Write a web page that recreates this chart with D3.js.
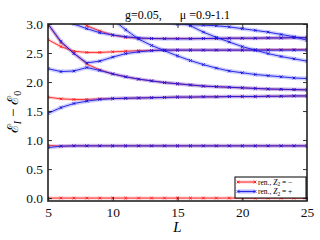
<!DOCTYPE html>
<html><head><meta charset="utf-8">
<script src="https://cdn.jsdelivr.net/npm/d3@7"></script>
<style>body{margin:0;background:#fff}svg{display:block}</style>
</head><body><svg id="c" width="320" height="240"></svg>
<script>
// ---- data ----
const Ls = [5,6,7,8,9,10,11,12,13,14,15,16,17,18,19,20,21,22,23,24,25];
const xTicks = [5,10,15,20,25];
const yTicks = [0.0,0.5,1.0,1.5,2.0,2.5,3.0];
const titleText = "g=0.05,      \u03bc =0.9-1.1";
const legendLabels = ["\u2212", "+"];

// Z2 = - (red)
const red0 = [0,0,0,0,0,0,0,0,0,0,0,0,0,0,0,0,0,0,0,0,0];
const red1 = [0.91,0.895,0.9,0.9,0.9,0.9,0.9,0.9,0.9,0.9,0.9,0.9,0.9,0.9,0.9,0.9,0.9,0.9,0.9,0.9,0.9];
const red2 = [1.74,1.71,1.70,1.70,1.71,1.715,1.72,1.725,1.73,1.735,1.74,1.74,1.745,1.745,1.75,1.75,1.75,1.755,1.755,1.76,1.76];
const red3 = [2.73,2.61,2.53,2.51,2.51,2.52,2.53,2.54,2.545,2.55,2.55,2.55,2.55,2.55,2.55,2.55,2.553,2.556,2.558,2.56,2.56];
const red4 = [3.0,2.68,2.50,2.31,2.21,2.14,2.09,2.05,2.02,1.99,1.97,1.95,1.93,1.92,1.91,1.90,1.89,1.88,1.875,1.87,1.865];
const red5 = [null,null,3.15,2.97,2.88,2.81,2.77,2.755,2.75,2.75,2.75,2.75,2.75,2.75,2.755,2.755,2.755,2.76,2.76,2.765,2.765];

// Z2 = + (blue)
const blue0 = [0.87,0.895,0.9,0.9,0.9,0.9,0.9,0.9,0.9,0.9,0.9,0.9,0.9,0.9,0.9,0.9,0.9,0.9,0.9,0.9,0.9];
const blue1 = [1.46,1.56,1.63,1.67,1.70,1.715,1.72,1.725,1.73,1.735,1.74,1.74,1.745,1.745,1.75,1.75,1.75,1.755,1.755,1.76,1.76];
const blue2 = [2.23,2.18,2.19,2.25,2.20,2.14,2.09,2.05,2.02,1.99,1.97,1.95,1.93,1.92,1.91,1.90,1.89,1.88,1.875,1.87,1.865];
const blue3 = [3.0,2.70,2.49,2.33,2.36,2.43,2.49,2.52,2.54,2.55,2.55,2.55,2.55,2.55,2.55,2.55,2.55,2.55,2.55,2.55,2.55];
const blue4 = [null,3.13,3.0,2.92,2.85,2.81,2.78,2.76,2.75,2.745,2.745,2.745,2.75,2.75,2.755,2.755,2.755,2.76,2.76,2.765,2.765];
const blue5 = [null,null,null,null,null,3.08,2.90,2.74,2.63,2.54,2.45,2.37,2.30,2.24,2.19,2.16,2.13,2.11,2.09,2.07,2.06];
const blue6 = [null,null,null,null,null,null,null,null,null,null,3.08,2.97,2.86,2.77,2.69,2.61,2.55,2.49,2.44,2.40,2.36];
const blue7 = [null,null,null,null,null,null,null,null,null,3.03,3.0,2.99,2.98,2.97,2.95,2.92,2.89,2.86,2.82,2.78,2.72];

const redCurves = [red0,red1,red2,red3,red4,red5];
const blueCurves = [blue0,blue1,blue2,blue3,blue4,blue5,blue6,blue7];

// ---- layout ----
const svg = d3.select("#c");
const X0=48, X1=307, Y0=24, Y1=201;
const x = d3.scaleLinear().domain([5,25]).range([X0,X1]);
const y = d3.scaleLinear().domain([-0.05,3.0]).range([Y1,Y0]);
const serif = "'Liberation Serif','DejaVu Serif',serif";

svg.append("defs").append("clipPath").attr("id","clip")
  .append("rect").attr("x",X0).attr("y",Y0).attr("width",X1-X0).attr("height",Y1-Y0);

const plot = svg.append("g").attr("clip-path","url(#clip)");
const line = d3.line().defined(d=>d.v!=null).x(d=>x(d.L)).y(d=>y(d.v));
const toPts = arr => arr.map((v,i)=>({L:Ls[i], v:v}));
const xMark = "M-1.3,-1.3L1.3,1.3M-1.3,1.3L1.3,-1.3";

function drawSeries(curves, bandColor, bandW, lineColor, lineW){
  curves.forEach(c=>{
    plot.append("path").attr("d",line(toPts(c))).attr("fill","none")
      .attr("stroke",bandColor).attr("stroke-width",bandW).attr("stroke-linejoin","round").attr("stroke-linecap","round");
  });
  curves.forEach(c=>{
    plot.append("path").attr("d",line(toPts(c))).attr("fill","none")
      .attr("stroke",lineColor).attr("stroke-width",lineW);
  });
  curves.forEach(c=>{
    plot.selectAll(null).data(toPts(c).filter(d=>d.v!=null)).enter().append("path")
      .attr("d",xMark).attr("transform",d=>`translate(${x(d.L)},${y(d.v)})`)
      .attr("stroke",lineColor).attr("stroke-width",1).attr("fill","none");
  });
}
drawSeries(redCurves, "rgba(255,60,60,0.25)", 3, "#ff2020", 0.9);
drawSeries(blueCurves, "rgba(90,90,255,0.3)", 4, "#1818e0", 0.9);

// ---- axes ----
const fmt = d3.format(".1f");
svg.append("g").attr("transform",`translate(0,${Y1})`)
  .call(d3.axisBottom(x).tickValues(xTicks).tickSizeInner(-4).tickSizeOuter(0).tickPadding(6));
svg.append("g").attr("transform",`translate(${X0},0)`)
  .call(d3.axisLeft(y).tickValues(yTicks).tickFormat(fmt).tickSizeInner(-4).tickSizeOuter(0).tickPadding(5));
svg.append("g").attr("transform",`translate(0,${Y0})`)
  .call(d3.axisTop(x).tickValues(xTicks).tickSizeInner(-4).tickSizeOuter(0).tickFormat(""));
svg.append("g").attr("transform",`translate(${X1},0)`)
  .call(d3.axisRight(y).tickValues(yTicks).tickSizeInner(-4).tickSizeOuter(0).tickFormat(""));
svg.selectAll(".domain").remove();
svg.selectAll(".tick line").attr("stroke","#000").attr("stroke-width",0.8);
svg.selectAll(".tick text").attr("font-family",serif).attr("font-size",13.5).attr("fill","#111");

svg.append("rect").attr("x",X0).attr("y",Y0).attr("width",X1-X0).attr("height",Y1-Y0)
  .attr("fill","none").attr("stroke","#222").attr("stroke-width",1.6);

// ---- title & labels ----
svg.append("text").attr("x",(X0+X1)/2).attr("y",19).attr("text-anchor","middle")
  .attr("font-family",serif).attr("font-size",12).attr("xml:space","preserve")
  .style("white-space","pre").text(titleText);

svg.append("text").attr("x",(X0+X1)/2).attr("y",232).attr("text-anchor","middle")
  .attr("font-family",serif).attr("font-size",15).attr("font-style","italic").text("L");

const yl = svg.append("text").attr("transform","translate(18,112) rotate(-90)").attr("text-anchor","middle")
  .attr("font-family",serif).attr("font-size",15);
yl.append("tspan").text("\u2130");
yl.append("tspan").attr("font-size",10).attr("font-style","italic").attr("dy",3).text("I");
yl.append("tspan").attr("dy",-3).text(" \u2212 \u2130");
yl.append("tspan").attr("font-size",10).attr("dy",3).text("0");

// ---- legend ----
const lg = svg.append("g");
lg.append("rect").attr("x",235).attr("y",177).attr("width",71).attr("height",21)
  .attr("fill","#fff").attr("stroke","#000").attr("stroke-width",1);
const entries = [
  {lab:legendLabels[0], band:"rgba(255,60,60,0.25)", bw:3, col:"#ff2020", yy:182},
  {lab:legendLabels[1], band:"rgba(90,90,255,0.45)", bw:4, col:"#1818e0", yy:191.5}
];
entries.forEach(e=>{
  lg.append("line").attr("x1",238).attr("x2",255).attr("y1",e.yy).attr("y2",e.yy)
    .attr("stroke",e.band).attr("stroke-width",e.bw);
  lg.append("line").attr("x1",238).attr("x2",255).attr("y1",e.yy).attr("y2",e.yy)
    .attr("stroke",e.col).attr("stroke-width",0.9);
  [238,255].forEach(px=>lg.append("path").attr("d",xMark).attr("transform",`translate(${px},${e.yy})`)
    .attr("stroke",e.col).attr("stroke-width",1));
  const t = lg.append("text").attr("x",258).attr("y",e.yy+2.5).attr("font-family",serif).attr("font-size",7.5);
  t.append("tspan").text("ren., ");
  t.append("tspan").attr("font-style","italic").text("Z");
  t.append("tspan").attr("font-size",5.5).attr("dy",1.5).text("2");
  t.append("tspan").attr("dy",-1.5).text(" = " + e.lab);
});
</script></body></html>
